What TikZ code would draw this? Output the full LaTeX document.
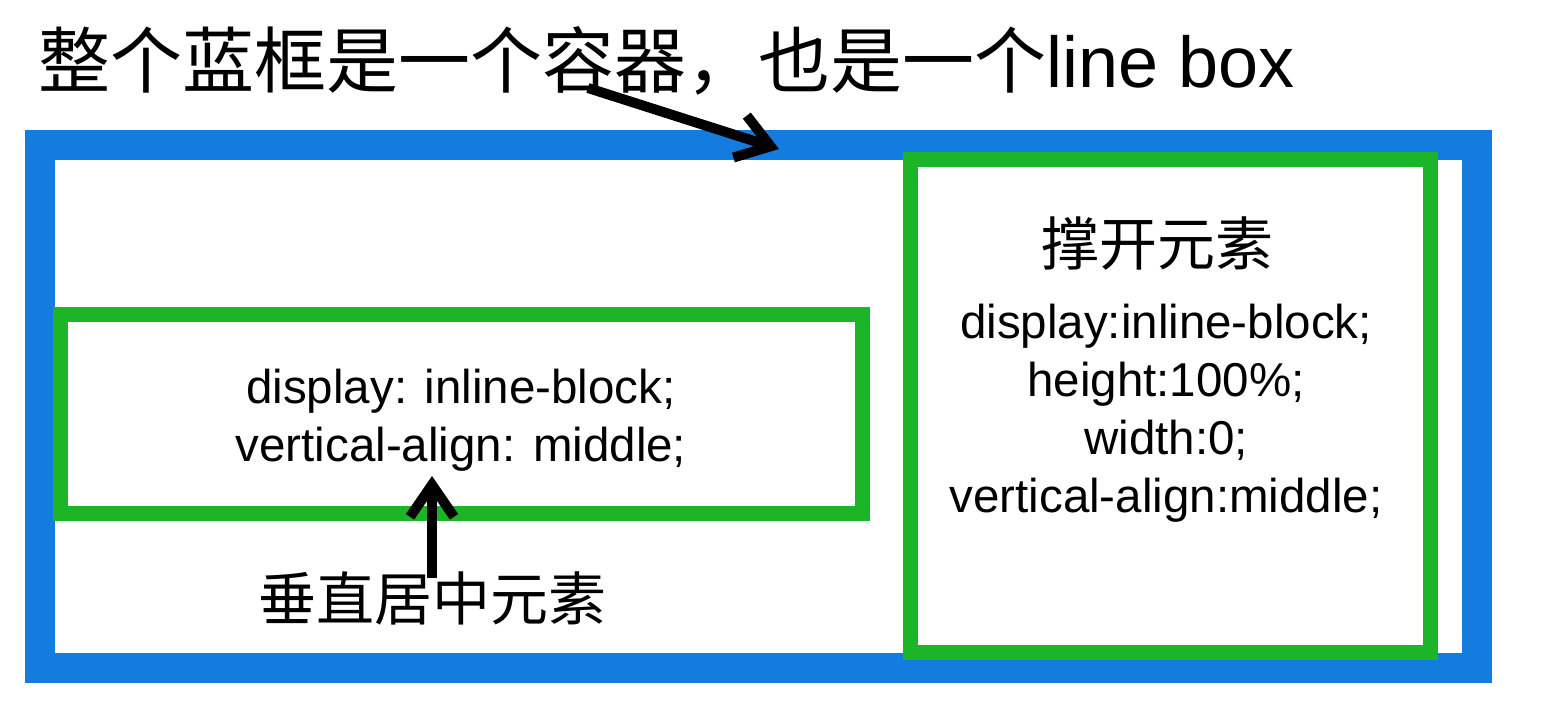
\documentclass[tikz,border=0pt]{standalone}
\usepackage{fontspec}
\setmainfont{Liberation Sans}
\newfontfamily\cjk{Noto Sans CJK SC}
\usetikzlibrary{arrows.meta}
\definecolor{frameblue}{RGB}{20,123,223}
\definecolor{boxgreen}{RGB}{28,181,40}
\tikzset{
  blueframe/.style={draw=frameblue,line width=30pt},
  greenbox/.style={draw=boxgreen,line width=15pt},
  txt/.style={inner sep=0pt,align=center,font=\fontsize{47.5}{58}\selectfont},
  cjktxt/.style={inner sep=0pt,font=\fontsize{58}{66}\selectfont\cjk},
  pointer/.style={line width=10pt,-{Straight Barb[length=32pt,width=44pt]}}
}
\begin{document}
\begin{tikzpicture}[x=1pt,y=-1pt]
\useasboundingbox (0,0) rectangle (1546,715);
% container
\draw[blueframe] (40,145) rectangle (1477,668);
% boxes
\node[greenbox,minimum width=802pt,minimum height=199pt,inner sep=0pt] (mid) at (461.5,414) {};
\node[greenbox,minimum width=520pt,minimum height=493pt,inner sep=0pt] (prop) at (1170.5,406) {};
% texts
\node[anchor=base west,inner sep=0pt,font=\fontsize{72}{80}\selectfont] (title) at (38,87) {{\cjk 整个蓝框是一个容器，也是一个}line box};
\node[txt] (midtxt) at (461,420) {display: inline-block;\\vertical-align: middle;};
\node[cjktxt] (propname) at (1157,244) {撑开元素};
\node[txt] (proptxt) at (1166,413) {display:inline-block;\\height:100\%;\\width:0;\\vertical-align:middle;};
\node[cjktxt] (midname) at (432,598) {垂直居中元素};
% arrows
\coordinate (a1s) at (588,88);
\coordinate (a1e) at (779,149);
\coordinate (a2s) at (432,578);
\coordinate (a2e) at (432,476);
\draw[pointer] (a1s) -- (a1e);
\draw[pointer] (a2s) -- (a2e);
\end{tikzpicture}
\end{document}
